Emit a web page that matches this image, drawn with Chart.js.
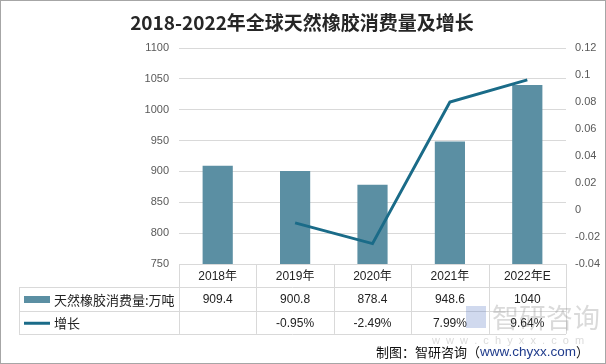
<!DOCTYPE html>
<html><head><meta charset="utf-8">
<script src="https://cdn.jsdelivr.net/npm/chart.js@4/dist/chart.umd.min.js"></script>
<style>html,body{margin:0;padding:0;background:#fff;}#wrap{width:606px;height:364px;position:relative;}</style>
</head><body><div id="wrap"><canvas id="c" width="606" height="364"></canvas></div>
<script>
const categories = ['2018年','2019年','2020年','2021年','2022年E'];
const consumption = [909.4, 900.8, 878.4, 948.6, 1040];
const growth = [null, -0.0095, -0.0249, 0.0799, 0.0964];
const consumptionText = ['909.4','900.8','878.4','948.6','1040'];
const growthText = ['','-0.95%','-2.49%','7.99%','9.64%'];
const seriesNames = ['天然橡胶消费量:万吨','增长'];
const titleText = '2018-2022年全球天然橡胶消费量及增长';
const footerText = ['制图：智研咨询（','www.chyxx.com','）'];

const FONT = '"Liberation Sans","Noto Sans CJK SC",sans-serif';
const CJK = '"Noto Sans CJK SC","Liberation Sans",sans-serif';
const BAR = '#5b8fa3', LINE = '#1a6b88', GRID = '#d9d9d9';

const tablePlugin = {
  id: 'tablePlugin',
  afterDraw(chart) {
    const ctx = chart.ctx, x = chart.scales.x, ca = chart.chartArea;
    const top = ca.bottom, rh = 23.3, left = 19;
    const cols = categories.map((c,i)=>x.getPixelForValue(i));
    const half = (x.getPixelForValue(1)-x.getPixelForValue(0))/2;
    ctx.save();
    ctx.strokeStyle = GRID; ctx.lineWidth = 1;
    ctx.beginPath();
    ctx.moveTo(ca.left, top+0.5); ctx.lineTo(ca.right, top+0.5);
    for (let r=1;r<=3;r++){ const y=Math.round(top+rh*r)+0.5; ctx.moveTo(left, y); ctx.lineTo(ca.right, y); }
    for (let i=0;i<=categories.length;i++){ const vx=Math.round(ca.left+half*2*i)+0.5; ctx.moveTo(vx, top); ctx.lineTo(vx, top+rh*3); }
    ctx.moveTo(left+0.5, top+rh); ctx.lineTo(left+0.5, top+rh*3);
    ctx.stroke();
    ctx.fillStyle = '#222'; ctx.font = '12px '+FONT; ctx.textAlign='center'; ctx.textBaseline='middle';
    cols.forEach((cx,i)=>{
      ctx.fillText(categories[i], cx, top+rh*0.5+1);
      ctx.fillText(consumptionText[i], cx, top+rh*1.5+1);
      ctx.fillText(growthText[i], cx, top+rh*2.5+1);
    });
    ctx.fillStyle = BAR; ctx.fillRect(24, Math.round(top+rh*1.5)-3, 26, 7);
    ctx.strokeStyle = LINE; ctx.lineWidth = 3; ctx.beginPath();
    ctx.moveTo(24, top+rh*2.5+1); ctx.lineTo(50, top+rh*2.5+1); ctx.stroke();
    ctx.fillStyle = '#222'; ctx.textAlign='left'; ctx.font = '13px '+CJK;
    ctx.fillText(seriesNames[0], 54, top+rh*1.5+1);
    ctx.fillText(seriesNames[1], 54, top+rh*2.5+1);
    ctx.fillStyle = '#262626'; ctx.font = 'bold 19px '+CJK; ctx.textAlign='center';
    ctx.fillText(titleText, 302, 23);
    ctx.fillStyle = 'rgba(150,150,150,0.35)'; ctx.font = '27px '+CJK; ctx.textAlign='left';
    ctx.fillText('智研咨询', 492, 318);
    ctx.fillStyle = 'rgba(100,130,200,0.3)'; ctx.fillRect(466, 306, 20, 22);
    ctx.fillStyle = 'rgba(150,150,150,0.35)'; ctx.font = '11px '+FONT;
    ctx.fillText('w  w  w  .  c  h  y  x  x  .  c  o  m', 432, 341);
    ctx.font = '13px '+CJK; ctx.textAlign='left';
    let fx = 376, fy = 352;
    ctx.fillStyle='#111'; ctx.fillText(footerText[0], fx, fy); fx += ctx.measureText(footerText[0]).width;
    ctx.font = '13.5px '+FONT; ctx.fillStyle='#1f3b8c'; ctx.fillText(footerText[1], fx, fy); fx += ctx.measureText(footerText[1]).width;
    ctx.font = '13px '+CJK; ctx.fillStyle='#111'; ctx.fillText(footerText[2], fx, fy);
    ctx.strokeStyle = '#a6a6a6'; ctx.lineWidth = 1;
    ctx.strokeRect(0.5, 0.5, 605, 363);
    ctx.restore();
  }
};

new Chart(document.getElementById('c'), {
  data: {
    labels: categories,
    datasets: [
      { type:'line', label: seriesNames[1], data: growth, yAxisID:'y1', borderColor: LINE, borderWidth: 3, pointRadius: 0, tension: 0, spanGaps: false, order: 0 },
      { type:'bar', label: seriesNames[0], data: consumption, yAxisID:'y', backgroundColor: BAR, categoryPercentage: 1, barPercentage: 0.39, order: 1 }
    ]
  },
  options: {
    responsive: false, animation: false, devicePixelRatio: 1,
    layout: { padding: { top: 48, bottom: 100, left: 0, right: 0 } },
    plugins: { legend: { display: false }, title: { display: false }, tooltip: { enabled: false } },
    scales: {
      x: { display: false, offset: true },
      y: { position: 'left', min: 750, max: 1100,
           ticks: { stepSize: 50, color: '#595959', font: { size: 11, family: FONT }, padding: 10,
                    callback: v => String(v) },
           grid: { color: GRID, drawTicks: false }, border: { display: false },
           afterFit(s){ s.width = 179; } },
      y1: { position: 'right', min: -0.04, max: 0.12,
           ticks: { stepSize: 0.02, color: '#595959', font: { size: 11, family: FONT }, padding: 9,
                    callback: v => String(parseFloat(v.toFixed(2))) },
           grid: { display: false, drawTicks: false }, border: { display: false },
           afterFit(s){ s.width = 40; } }
    }
  },
  plugins: [tablePlugin]
});
</script></body></html>
